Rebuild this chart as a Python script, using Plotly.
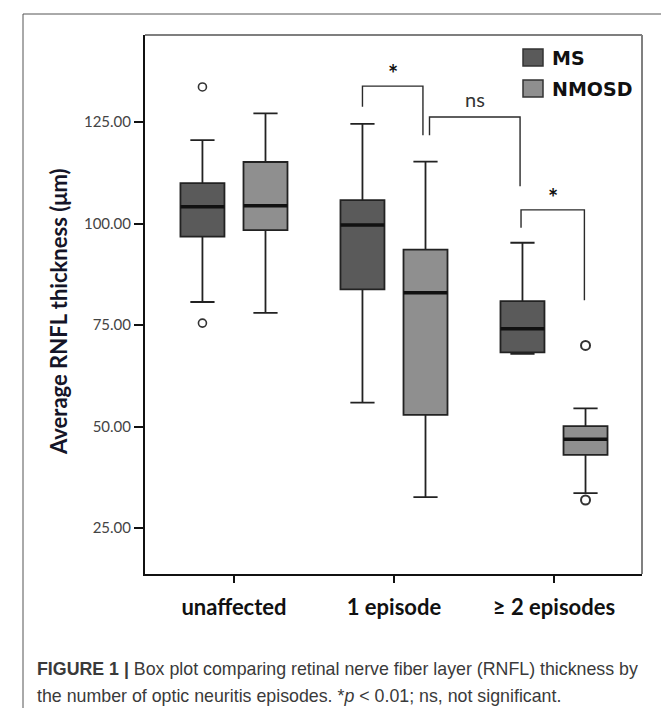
import plotly.graph_objects as go

# ---------------- data ----------------
categories = ["unaffected", "1 episode", "\u2265 2 episodes"]
series_names = ["MS", "NMOSD"]

ms_q1 = [96.8, 83.8, 68.3]
ms_median = [104.2, 99.7, 74.1]
ms_q3 = [110.0, 105.8, 80.9]
ms_low = [80.7, 55.9, 67.9]
ms_high = [120.6, 124.6, 95.3]
ms_out_group = [0, 0]
ms_out_value = [133.7, 75.5]

nm_q1 = [98.4, 52.9, 43.0]
nm_median = [104.4, 83.0, 46.9]
nm_q3 = [115.2, 93.6, 50.1]
nm_low = [78.0, 32.6, 33.6]
nm_high = [127.2, 115.3, 54.5]
nm_out_group = [2, 2]
nm_out_value = [70.0, 31.9]

y_ticks = [25, 50, 75, 100, 125]

# significance brackets
sig_left_x = [0.803, 1.222, 1.794]
sig_right_x = [1.181, 1.788, 2.19]
sig_left_y = [128.8, 121.8, 99.0]
sig_top_y = [133.9, 126.3, 103.4]
sig_right_y = [121.8, 109.2, 81.1]
sig_labels = ["*", "ns", "*"]

# ---------------- style ----------------
W, H = 669, 708
ML, MR, MT, MB = 137, 35, 27, 142
PW, PH = W - ML - MR, H - MT - MB
MS_FILL = "#5a5a5a"
NM_FILL = "#8f8f8f"
EDGE = "#222222"
OFFSET = 0.197
BOXW = 0.275


def px(x):
    return (x - ML) / PW


def py(y):
    return (H - MB - y) / PH


ms_pos = [i - OFFSET for i in range(len(categories))]
nm_pos = [i + OFFSET for i in range(len(categories))]

fig = go.Figure()

for pos, q1, med, q3, lo, hi, fill in [
    (ms_pos, ms_q1, ms_median, ms_q3, ms_low, ms_high, MS_FILL),
    (nm_pos, nm_q1, nm_median, nm_q3, nm_low, nm_high, NM_FILL),
]:
    fig.add_trace(go.Box(
        x=pos, q1=q1, median=med, q3=q3, lowerfence=lo, upperfence=hi,
        width=BOXW, whiskerwidth=0.55, fillcolor=fill,
        line=dict(color=EDGE, width=1.8), boxpoints=False,
        showlegend=False, hoverinfo="skip",
    ))
    mx, my = [], []
    for p, m in zip(pos, med):
        mx += [p - BOXW / 2, p + BOXW / 2, None]
        my += [m, m, None]
    fig.add_trace(go.Scatter(x=mx, y=my, mode="lines",
                             line=dict(color="#111111", width=3.5),
                             showlegend=False, hoverinfo="skip"))

# outliers
fig.add_trace(go.Scatter(
    x=[ms_pos[g] for g in ms_out_group], y=ms_out_value, mode="markers",
    marker=dict(symbol="circle-open", size=8, color="#333333", line=dict(width=1.6)),
    showlegend=False, hoverinfo="skip"))
fig.add_trace(go.Scatter(
    x=[nm_pos[g] for g in nm_out_group], y=nm_out_value, mode="markers",
    marker=dict(symbol="circle-open", size=9, color="#333333", line=dict(width=2)),
    showlegend=False, hoverinfo="skip"))

# significance brackets
bx, by = [], []
for lx, rx, ly, ty, ry in zip(sig_left_x, sig_right_x, sig_left_y, sig_top_y, sig_right_y):
    bx += [lx, lx, rx, rx, None]
    by += [ly, ty, ty, ry, None]
fig.add_trace(go.Scatter(x=bx, y=by, mode="lines",
                         line=dict(color="#2a2a2a", width=1.4),
                         showlegend=False, hoverinfo="skip"))

annotations = []
for lx, rx, ty, lab in zip(sig_left_x, sig_right_x, sig_top_y, sig_labels):
    if lab == "*":
        annotations.append(dict(x=(lx + rx) / 2, y=ty, xref="x", yref="y", text="<b>*</b>",
                                showarrow=False, yanchor="bottom", yshift=-4,
                                font=dict(family="Lato", size=24, color="#111111")))
    else:
        annotations.append(dict(x=(lx + rx) / 2, y=ty, xref="x", yref="y", text=lab,
                                showarrow=False, yanchor="bottom", yshift=4,
                                font=dict(family="Lato", size=20, color="#333333")))

# y title
annotations.append(dict(x=px(50), y=py(304), xref="paper", yref="paper",
                        text="Average RNFL thickness (\u03bcm)", textangle=-90,
                        showarrow=False, xanchor="center", yanchor="middle",
                        font=dict(family="Lato", size=22, weight="bold", color="#151528")))

# legend text
for name, yy in zip(series_names, [50, 81]):
    annotations.append(dict(x=px(542), y=py(yy), xref="paper", yref="paper", text=name,
                            showarrow=False, xanchor="left", yanchor="middle",
                            font=dict(family="DejaVu Sans", size=19, weight="bold", color="#111111")))

# caption
annotations.append(dict(x=px(27), y=py(661), xref="paper", yref="paper",
                        text="<b>FIGURE 1 |</b> Box plot comparing retinal nerve fiber layer (RNFL) thickness by",
                        showarrow=False, xanchor="left", yanchor="middle",
                        font=dict(family="Liberation Sans", size=17.8, color="#3a3a3a")))
annotations.append(dict(x=px(27), y=py(688), xref="paper", yref="paper",
                        text="the number of optic neuritis episodes. *<i>p</i> &lt; 0.01; ns, not significant.",
                        showarrow=False, xanchor="left", yanchor="middle",
                        font=dict(family="Liberation Sans", size=17.8, color="#3a3a3a")))

shapes = [
    dict(type="rect", xref="paper", yref="paper", x0=px(15), x1=px(667), y0=py(715), y1=py(6),
         line=dict(color="#555555", width=1), fillcolor="rgba(0,0,0,0)", layer="below"),
    dict(type="line", xref="paper", yref="paper", x0=0, x1=1, y0=1, y1=1,
         line=dict(color="#555555", width=1.5)),
    dict(type="line", xref="paper", yref="paper", x0=1, x1=1, y0=0, y1=1,
         line=dict(color="#808080", width=2)),
    dict(type="rect", xref="paper", yref="paper", x0=px(515), x1=px(535), y0=py(58), y1=py(41),
         fillcolor=MS_FILL, line=dict(color="#333333", width=1.5)),
    dict(type="rect", xref="paper", yref="paper", x0=px(515), x1=px(535), y0=py(89), y1=py(72),
         fillcolor=NM_FILL, line=dict(color="#333333", width=1.5)),
]

fig.update_layout(
    width=W, height=H,
    margin=dict(l=ML, r=MR, t=MT, b=MB),
    paper_bgcolor="white", plot_bgcolor="white",
    showlegend=False,
    annotations=annotations,
    shapes=shapes,
    xaxis=dict(range=[-0.556, 2.55], tickvals=list(range(len(categories))), ticktext=categories,
               showline=True, linecolor="#111111", linewidth=2, ticks="outside", ticklen=7,
               tickwidth=2, tickcolor="#111111", showgrid=False, zeroline=False,
               ticklabelstandoff=6,
               tickfont=dict(family="Lato", size=22, weight="bold", color="#111111")),
    yaxis=dict(range=[13.66, 146.5], tickvals=y_ticks, tickformat=".2f",
               showline=True, linecolor="#111111", linewidth=2, ticks="outside", ticklen=9,
               tickwidth=2, tickcolor="#111111", showgrid=False, zeroline=False,
               tickfont=dict(family="Lato", size=15, color="#444444")),
)

fig.write_html("out.html")
